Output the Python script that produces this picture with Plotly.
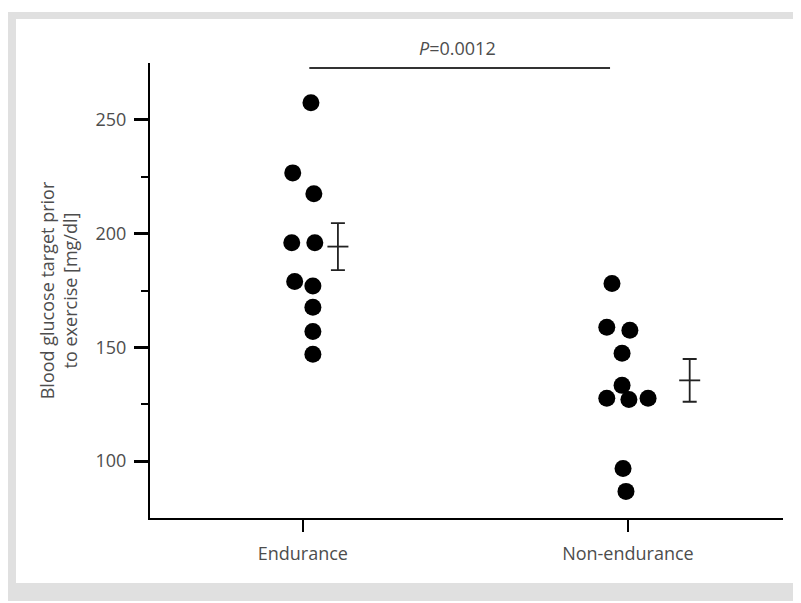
import plotly.graph_objects as go

categories = ["Endurance", "Non-endurance"]

# Endurance group: values (mg/dl) and horizontal jitter (category units)
endurance_values = [257.5, 226.7, 217.5, 196.0, 196.0, 179.0, 177.0, 167.6, 157.0, 147.0]
endurance_jitter = [0.025, -0.031, 0.034, -0.034, 0.037, -0.025, 0.031, 0.031, 0.031, 0.031]

# Non-endurance group
nonendurance_values = [178.1, 158.8, 157.5, 147.4, 133.3, 127.6, 127.1, 127.6, 96.8, 86.7]
nonendurance_jitter = [-0.049, -0.065, 0.006, -0.018, -0.018, -0.065, 0.003, 0.062, -0.015, -0.006]

# Mean and SEM per group
group_means = [194.3, 135.5]
group_sems = [10.3, 9.4]
summary_offset = [0.108, 0.19]

p_text = "<i>P</i>=0.0012"

y_major_ticks = [100, 150, 200, 250]
y_minor_ticks = [125, 175, 225]

FONT = "Open Sans"
TXT = "#4d4d4d"
FS = 18

fig = go.Figure()

groups = [endurance_values, nonendurance_values]
jitters = [endurance_jitter, nonendurance_jitter]
for gi, (vals, jit) in enumerate(zip(groups, jitters)):
    fig.add_trace(go.Scatter(
        x=[gi + j for j in jit], y=vals, mode="markers",
        marker=dict(size=17, color="black", line=dict(width=0)),
        showlegend=False, hoverinfo="y", cliponaxis=False,
    ))

fig.add_trace(go.Scatter(
    x=[i + o for i, o in enumerate(summary_offset)], y=group_means, mode="markers",
    marker=dict(symbol="line-ew", size=15, line=dict(width=1.8, color="#222222")),
    error_y=dict(type="data", array=group_sems, visible=True, color="#222222",
                 thickness=1.8, width=7),
    showlegend=False, hoverinfo="y", cliponaxis=False,
))

# page body has an 8px margin; figure coordinates = target screen pixels - 8
OFF = 8
L, R, T, B = 150 - OFF, 18, 63 - OFF, 85
W, H = 801 - OFF, 603 - OFF
pw, ph = W - L - R, H - T - B

def px(xs):
    return (xs - OFF - L) / pw

def py(ys):
    return (H - B - (ys - OFF)) / ph

shapes = [
    dict(type="rect", xref="paper", yref="paper", x0=px(8), x1=px(801), y0=py(601), y1=py(12),
         fillcolor="#e0e0e0", line=dict(width=0), layer="below"),
    dict(type="rect", xref="paper", yref="paper", x0=px(16), x1=px(795), y0=py(583), y1=py(19),
         fillcolor="white", line=dict(width=0), layer="below"),
    dict(type="line", xref="x", yref="y", x0=0.02, x1=0.945, y0=272.8, y1=272.8,
         line=dict(color="#333333", width=2)),
]

fig.update_layout(
    width=W, height=H,
    margin=dict(l=L, r=R, t=T, b=B, pad=0),
    paper_bgcolor="white", plot_bgcolor="white",
    font=dict(family=FONT, size=FS, color=TXT),
    shapes=shapes,
    annotations=[dict(x=0.475, y=py(48), xref="x", yref="paper", text=p_text,
                      xanchor="center", yanchor="middle",
                      showarrow=False, font=dict(family=FONT, size=FS, color=TXT))],
    xaxis=dict(range=[-0.47, 1.477], tickmode="array", tickvals=[0, 1], ticktext=categories,
               showline=True, linecolor="black", linewidth=2, ticks="outside",
               ticklen=12, tickwidth=2, tickcolor="black", showgrid=False, zeroline=False,
               tickfont=dict(size=FS, color=TXT), ticklabelstandoff=6),
    yaxis=dict(range=[75, 275], tickmode="array", tickvals=y_major_ticks,
               showline=True, linecolor="black", linewidth=2, ticks="outside",
               ticklen=14, tickwidth=2.5, tickcolor="black", showgrid=False, zeroline=False,
               tickfont=dict(size=FS, color=TXT), ticklabelstandoff=4,
               minor=dict(tickvals=y_minor_ticks, ticks="outside", ticklen=7, tickwidth=2,
                          tickcolor="black", showgrid=False),
               title=dict(text="Blood glucose target prior<br>to exercise [mg/dl]",
                          font=dict(size=FS, color=TXT), standoff=13)),
)

fig.write_html("out.html")
